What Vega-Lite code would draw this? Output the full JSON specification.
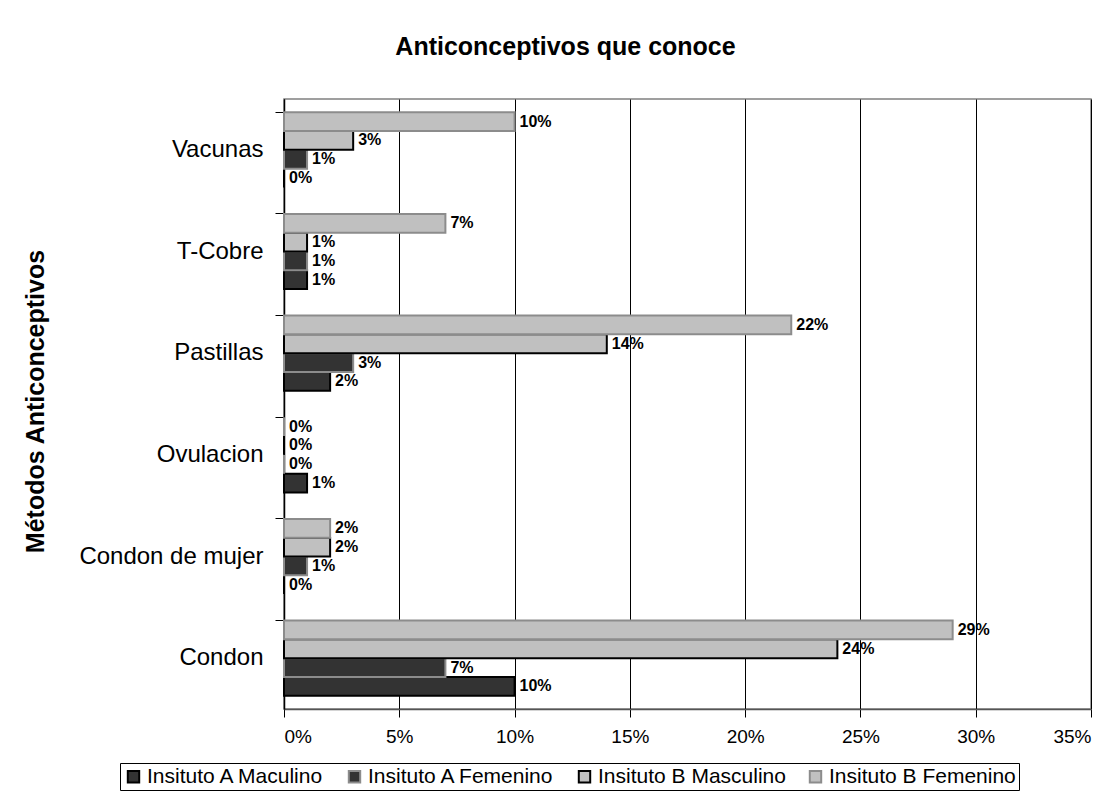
{
  "$schema": "https://vega.github.io/schema/vega-lite/v6.json",
  "width": 807,
  "height": 610,
  "autosize": {"type": "none"},
  "padding": {"left": 284, "top": 99, "right": 24, "bottom": 98},
  "background": "white",
  "title": {
    "text": "Anticonceptivos que conoce",
    "fontSize": 25,
    "fontWeight": "bold",
    "font": "Liberation Sans",
    "anchor": "middle",
    "dx": -122,
    "offset": 19,
    "baseline": "alphabetic",
    "color": "black"
  },
  "data": {
    "values": [
      {"metodo": "Vacunas", "serie": "Insituto A Maculino", "valor": 0.00},
      {"metodo": "Vacunas", "serie": "Insituto A Femenino", "valor": 0.01},
      {"metodo": "Vacunas", "serie": "Insituto B Masculino", "valor": 0.03},
      {"metodo": "Vacunas", "serie": "Insituto B Femenino", "valor": 0.10},
      {"metodo": "T-Cobre", "serie": "Insituto A Maculino", "valor": 0.01},
      {"metodo": "T-Cobre", "serie": "Insituto A Femenino", "valor": 0.01},
      {"metodo": "T-Cobre", "serie": "Insituto B Masculino", "valor": 0.01},
      {"metodo": "T-Cobre", "serie": "Insituto B Femenino", "valor": 0.07},
      {"metodo": "Pastillas", "serie": "Insituto A Maculino", "valor": 0.02},
      {"metodo": "Pastillas", "serie": "Insituto A Femenino", "valor": 0.03},
      {"metodo": "Pastillas", "serie": "Insituto B Masculino", "valor": 0.14},
      {"metodo": "Pastillas", "serie": "Insituto B Femenino", "valor": 0.22},
      {"metodo": "Ovulacion", "serie": "Insituto A Maculino", "valor": 0.01},
      {"metodo": "Ovulacion", "serie": "Insituto A Femenino", "valor": 0.00},
      {"metodo": "Ovulacion", "serie": "Insituto B Masculino", "valor": 0.00},
      {"metodo": "Ovulacion", "serie": "Insituto B Femenino", "valor": 0.00},
      {"metodo": "Condon de mujer", "serie": "Insituto A Maculino", "valor": 0.00},
      {"metodo": "Condon de mujer", "serie": "Insituto A Femenino", "valor": 0.01},
      {"metodo": "Condon de mujer", "serie": "Insituto B Masculino", "valor": 0.02},
      {"metodo": "Condon de mujer", "serie": "Insituto B Femenino", "valor": 0.02},
      {"metodo": "Condon", "serie": "Insituto A Maculino", "valor": 0.10},
      {"metodo": "Condon", "serie": "Insituto A Femenino", "valor": 0.07},
      {"metodo": "Condon", "serie": "Insituto B Masculino", "valor": 0.24},
      {"metodo": "Condon", "serie": "Insituto B Femenino", "valor": 0.29}
    ]
  },
  "encoding": {
    "yOffset": {
      "field": "serie",
      "type": "nominal",
      "sort": ["Insituto B Femenino", "Insituto B Masculino", "Insituto A Femenino", "Insituto A Maculino"],
      "scale": {"paddingInner": 0, "paddingOuter": 0}
    },
    "x": {
      "field": "valor",
      "type": "quantitative",
      "scale": {"domain": [0, 0.35], "nice": false, "zero": true},
      "axis": {
        "title": null,
        "values": [0, 0.05, 0.1, 0.15, 0.2, 0.25, 0.3, 0.35],
        "format": ".0%",
        "grid": true,
        "gridColor": "black",
        "gridOpacity": 1,
        "gridWidth": 1,
        "domainColor": "#555555",
        "domainWidth": 1.5,
        "tickColor": "black",
        "tickSize": 8,
        "labelFontSize": 19,
        "labelColor": "black",
        "labelPadding": 10,
        "labelFont": "Liberation Sans"
      }
    }
  },
  "layer": [
    {
      "mark": {"type": "bar", "strokeWidth": 2},
      "encoding": {
        "y": {
          "field": "metodo",
          "type": "nominal",
          "sort": ["Vacunas", "T-Cobre", "Pastillas", "Ovulacion", "Condon de mujer", "Condon"],
          "scale": {"paddingInner": 0.26, "paddingOuter": 0.13},
          "axis": {
            "orient": "left",
            "title": "Métodos Anticonceptivos",
            "titleFontSize": 25,
            "titleFontWeight": "bold",
            "titleFont": "Liberation Sans",
            "titleColor": "black",
            "titleX": -249,
            "titleY": 302,
            "titleAngle": -90,
            "titleAlign": "center",
            "titleBaseline": "middle",
            "ticks": false,
            "tickSize": 0,
            "labelPadding": 21,
            "labelFontSize": 24,
            "labelFont": "Liberation Sans",
            "labelColor": "black",
            "labelLimit": 400,
            "domainColor": "black",
            "domainWidth": 1.5,
            "grid": false
          }
        },
        "fill": {
          "field": "serie",
          "type": "nominal",
          "scale": {
            "domain": ["Insituto A Maculino", "Insituto A Femenino", "Insituto B Masculino", "Insituto B Femenino"],
            "range": ["#333333", "#333333", "#c0c0c0", "#c0c0c0"]
          },
          "legend": {
            "title": null,
            "orient": "none",
            "legendX": -164,
            "legendY": 664,
            "direction": "horizontal",
            "strokeColor": "black",
            "padding": 3,
            "labelFontSize": 21,
            "labelFont": "Liberation Sans",
            "labelColor": "black",
            "labelLimit": 400,
            "symbolType": "square",
            "symbolSize": 130,
            "symbolStrokeWidth": 2,
            "columnPadding": 19,
            "labelOffset": 3
          }
        },
        "stroke": {
          "field": "serie",
          "type": "nominal",
          "scale": {
            "domain": ["Insituto A Maculino", "Insituto A Femenino", "Insituto B Masculino", "Insituto B Femenino"],
            "range": ["#000000", "#8c8c8c", "#000000", "#8c8c8c"]
          },
          "legend": {
            "title": null,
            "orient": "none",
            "legendX": -164,
            "legendY": 664,
            "direction": "horizontal",
            "strokeColor": "black",
            "padding": 3,
            "labelFontSize": 21,
            "labelFont": "Liberation Sans",
            "labelColor": "black",
            "labelLimit": 400,
            "symbolType": "square",
            "symbolSize": 130,
            "symbolStrokeWidth": 2,
            "columnPadding": 19,
            "labelOffset": 3
          }
        }
      }
    },
    {
      "mark": {
        "type": "text",
        "align": "left",
        "baseline": "middle",
        "dx": 5,
        "fontSize": 16,
        "fontWeight": "bold",
        "font": "Liberation Sans",
        "color": "black"
      },
      "encoding": {
        "y": {
          "field": "metodo",
          "type": "nominal",
          "sort": ["Vacunas", "T-Cobre", "Pastillas", "Ovulacion", "Condon de mujer", "Condon"],
          "axis": {
            "orient": "left",
            "title": null,
            "labels": false,
            "ticks": true,
            "tickSize": 9,
            "tickColor": "black",
            "tickWidth": 1,
            "bandPosition": 0,
            "domain": false,
            "grid": false
          }
        },
        "text": {"field": "valor", "type": "quantitative", "format": ".0%"}
      }
    }
  ],
  "resolve": {"axis": {"y": "independent"}},
  "config": {
    "font": "Liberation Sans",
    "view": {"stroke": "#808080", "strokeWidth": 1.5}
  }
}
